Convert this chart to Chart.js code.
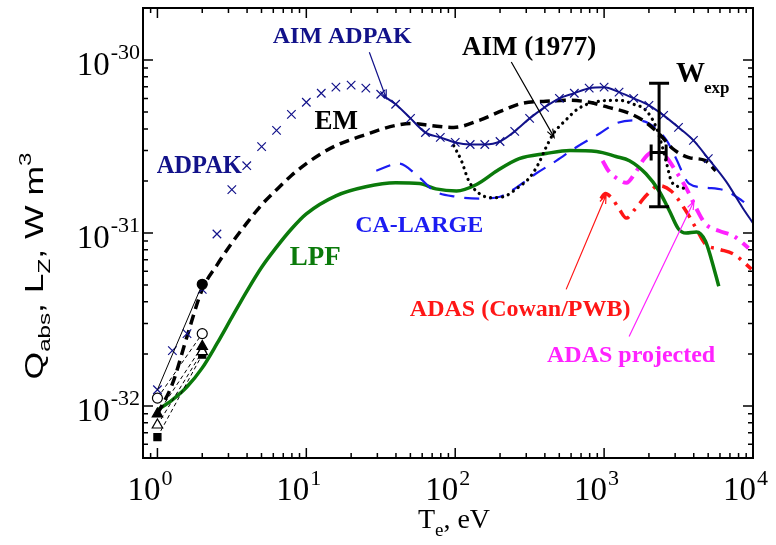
<!DOCTYPE html>
<html lang="en">
<head>
<meta charset="UTF-8"/>
<title>Radiative loss rates vs Te</title>
<script src="https://cdn.jsdelivr.net/npm/chart.js"></script>
<style>
  body { margin: 0; background: #fff; }
</style>
</head>
<body>
<canvas id="rad" width="776" height="545"></canvas>
<script>
  // ---- values: Te in eV, rate in W m^3 ----
  const adpakT = [1, 1.26, 1.58, 2, 2.51, 3.16, 3.98, 5.01, 6.31, 7.94, 10, 12.6, 15.8, 20, 25.1, 31.6, 39.8, 50.1, 63.1, 79.4,
                  100, 126, 158, 200, 251, 316, 398, 501, 631, 794, 1000, 1260, 1580, 2000, 2510, 3160, 3980, 5010];
  const adpakQ = [1.24e-32, 2.09e-32, 2.62e-32, 4.72e-32, 9.87e-32, 1.78e-31, 2.45e-31, 3.16e-31, 3.92e-31, 4.85e-31,
                  5.70e-31, 6.43e-31, 6.97e-31, 7.16e-31, 6.88e-31, 6.34e-31, 5.55e-31, 4.60e-31, 3.81e-31, 3.57e-31,
                  3.34e-31, 3.25e-31, 3.25e-31, 3.38e-31, 3.87e-31, 4.60e-31, 5.33e-31, 6.01e-31, 6.43e-31, 6.88e-31,
                  6.97e-31, 6.52e-31, 6.01e-31, 5.47e-31, 4.79e-31, 4.08e-31, 3.43e-31, 2.69e-31];

  const aimAdpakT = [33, 39.8, 50.1, 63.1, 79.4, 100, 126, 158, 200, 251, 316, 398, 501, 631, 794, 1000, 1260, 1580,
                     2000, 2510, 3160, 3980, 5010, 6610, 8510, 10000];
  const aimAdpakQ = [6.2e-31, 5.55e-31, 4.60e-31, 3.81e-31, 3.57e-31, 3.34e-31, 3.25e-31, 3.25e-31, 3.38e-31, 3.87e-31,
                     4.60e-31, 5.33e-31, 6.01e-31, 6.43e-31, 6.88e-31, 6.97e-31, 6.52e-31, 6.01e-31, 5.47e-31, 4.79e-31,
                     4.08e-31, 3.43e-31, 2.69e-31, 1.98e-31, 1.40e-31, 1.14e-31];

  const emT = [1, 1.26, 1.58, 2, 2.51, 3.16, 3.98, 5.01, 6.31, 7.94, 10, 12.6, 15.8, 20, 25.1, 31.6, 39.8, 50.1,
               67.6, 97.7, 145, 209, 282, 407, 589, 794, 1070, 1480, 1910, 2400, 2880, 3720, 4790, 5620];
  const emQ = [8.98e-33, 1.34e-32, 2.52e-32, 4.72e-32, 6.52e-32, 8.75e-32, 1.14e-31, 1.455e-31, 1.78e-31, 2.15e-31,
               2.52e-31, 2.88e-31, 3.20e-31, 3.47e-31, 3.71e-31, 3.97e-31, 4.19e-31, 4.30e-31,
               4.19e-31, 4.08e-31, 4.48e-31, 5.12e-31, 5.62e-31, 5.78e-31, 5.85e-31, 5.70e-31, 5.33e-31, 4.92e-31,
               4.36e-31, 3.66e-31, 3.08e-31, 2.73e-31, 2.62e-31, 2.29e-31];

  const aim77T = [97.7, 110, 123, 145, 178, 219, 257, 316, 363, 407, 457, 550, 676, 933, 1260, 1580, 1910, 2240,
                  2450, 2630, 2820, 3160, 3630];
  const aim77Q = [3.20e-31, 2.62e-31, 2.01e-31, 1.69e-31, 1.60e-31, 1.64e-31, 1.80e-31, 2.09e-31, 2.52e-31, 3.12e-31,
                  3.76e-31, 4.48e-31, 5.26e-31, 5.78e-31, 5.85e-31, 5.55e-31, 5.12e-31, 4.08e-31, 3.20e-31, 2.52e-31,
                  2.01e-31, 1.85e-31, 1.80e-31];

  const caT = [29.5, 41.7, 57.5, 72.4, 102, 145, 200, 257, 347, 479, 646, 933, 1200, 1620, 2000, 2630, 3020, 3720,
               4790, 6610, 8510, 9770];
  const caQ = [2.29e-31, 2.52e-31, 2.09e-31, 1.75e-31, 1.62e-31, 1.58e-31, 1.62e-31, 1.83e-31, 2.20e-31, 2.62e-31,
               3.12e-31, 3.76e-31, 4.30e-31, 4.48e-31, 4.30e-31, 3.43e-31, 2.73e-31, 1.93e-31, 1.83e-31, 1.75e-31,
               1.53e-31, 1.40e-31];

  const lpfT = [1, 1.26, 1.58, 2, 2.51, 3.16, 3.98, 5.01, 6.31, 7.94, 10, 15.8, 25.1, 39.8, 57.5, 74.1, 102, 138, 191,
                269, 407, 589, 891, 1200, 1480, 1910, 2340, 2750, 3160, 3550, 4170, 4790, 5250, 5890];
  const lpfQ = [9.48e-33, 1.084e-32, 1.29e-32, 1.66e-32, 2.29e-32, 3.25e-32, 4.60e-32, 6.34e-32, 8.29e-32, 1.055e-31,
                1.29e-31, 1.64e-31, 1.85e-31, 1.95e-31, 1.93e-31, 1.80e-31, 1.75e-31, 1.90e-31, 2.29e-31,
                2.69e-31, 2.88e-31, 3.00e-31, 2.96e-31, 2.77e-31, 2.62e-31, 2.20e-31, 1.75e-31, 1.34e-31, 1.055e-31,
                1.00e-31, 1.013e-31, 8.99e-32, 7.06e-32, 4.92e-32];

  const adasT = [950, 1020, 1120, 1260, 1410, 1620, 1910, 2340, 2820, 3470, 4170, 4790, 5890, 7410, 9770];
  const adasQ = [1.58e-31, 1.69e-31, 1.60e-31, 1.38e-31, 1.22e-31, 1.38e-31, 1.64e-31, 1.88e-31, 1.75e-31, 1.38e-31,
                 1.055e-31, 8.63e-32, 8.07e-32, 7.55e-32, 6.18e-32];

  const projT = [977, 1070, 1230, 1410, 1620, 1860, 2090, 2340, 2630, 3020, 3550, 4170, 4790, 5890, 7410, 9330];
  const projQ = [2.62e-31, 2.29e-31, 2.06e-31, 1.95e-31, 2.23e-31, 2.69e-31, 2.92e-31, 2.92e-31, 2.73e-31, 2.29e-31,
                 1.83e-31, 1.38e-31, 1.13e-31, 1.03e-31, 9.60e-32, 8.18e-32];

  // low temperature measurements at 1 and 2 eV
  const lowT = [1, 2];
  const lowFilledCircQ = [1.24e-32, 5.05e-32];
  const lowOpenCircQ = [1.11e-32, 2.62e-32];
  const lowFilledTriQ = [8.98e-33, 2.21e-32];
  const lowOpenTriQ = [7.76e-33, 2.06e-32];
  const lowSquareQ = [6.61e-33, 1.98e-32];

  // W experimental point with error bars
  const wexpT = 2340, wexpTlo = 2070, wexpThi = 2610;
  const wexpQ = 2.92e-31, wexpQlo = 1.42e-31, wexpQhi = 7.35e-31;

  const navy = "#12128a", blue = "#1c1cf2", green = "#0b7a0b", red = "#ff1616", magenta = "#ff22ff";

  const labels = [
    { text: "AIM ADPAK", t: 17.4, q: 1.36e-30, color: navy, size: 24 },
    { text: "AIM (1977)", t: 314, q: 1.17e-30, color: "#000", size: 27 },
    { text: "EM", t: 15.9, q: 4.36e-31, color: "#000", size: 27 },
    { text: "ADPAK", t: 1.91, q: 2.42e-31, color: navy, size: 24.5 },
    { text: "CA-LARGE", t: 57.3, q: 1.10e-31, color: blue, size: 24 },
    { text: "LPF", t: 11.5, q: 7.16e-32, color: green, size: 27 },
    { text: "ADAS (Cowan/PWB)", t: 273, q: 3.61e-32, color: red, size: 24 },
    { text: "ADAS projected", t: 1518, q: 1.95e-32, color: magenta, size: 24 }
  ];
  const arrows = [
    { t0: 26.5, q0: 1.11e-30, t1: 34.4, q1: 6.01e-31, color: navy },
    { t0: 238, q0: 9.74e-31, t1: 462, q1: 3.57e-31, color: "#000" },
    { t0: 556, q0: 4.72e-32, t1: 1031, q1: 1.66e-31, color: red },
    { t0: 1472, q0: 2.52e-32, t1: 4018, q1: 1.53e-31, color: magenta }
  ];

  const xy = (ts, qs) => ts.map((t, i) => ({ x: t, y: qs[i] }));
  const curve = (ts, qs, color, width, dash, cap) => ({
    data: xy(ts, qs), showLine: true, borderColor: color, borderWidth: width,
    borderDash: dash || [], borderCapStyle: cap || "butt", pointRadius: 0,
    cubicInterpolationMode: "monotone", fill: false
  });
  const lowSet = (qs, style, filled, dashed, radius) => ({
    data: xy(lowT, qs), showLine: true, borderColor: "#000", borderWidth: 1,
    borderDash: dashed ? [4, 3] : [], pointStyle: style, pointRadius: radius,
    pointBorderColor: "#000", pointBorderWidth: 1.2,
    pointBackgroundColor: filled ? "#000" : "#fff"
  });

  const overlay = {
    id: "overlay",
    afterDraw(chart) {
      const { ctx, chartArea: a, scales: { x, y } } = chart;
      const px = t => x.getPixelForValue(t), py = q => y.getPixelForValue(q);
      ctx.save();

      // frame
      ctx.strokeStyle = "#000";
      ctx.lineWidth = 2;
      ctx.strokeRect(a.left, a.top, a.right - a.left, a.bottom - a.top);

      // inward ticks on all sides
      ctx.lineWidth = 1.5;
      for (let k = -1; k <= 4; k++) {
        for (let m = 1; m <= 9; m++) {
          const p = px(m * Math.pow(10, k));
          if (p < a.left + 1 || p > a.right - 1) continue;
          const L = m === 1 ? 10 : 5;
          ctx.beginPath();
          ctx.moveTo(p, a.bottom); ctx.lineTo(p, a.bottom - L);
          ctx.moveTo(p, a.top); ctx.lineTo(p, a.top + L);
          ctx.stroke();
        }
      }
      for (let k = -33; k <= -30; k++) {
        for (let m = 1; m <= 9; m++) {
          const p = py(m * Math.pow(10, k));
          if (p < a.top + 1 || p > a.bottom - 1) continue;
          const L = m === 1 ? 10 : 5;
          ctx.beginPath();
          ctx.moveTo(a.left, p); ctx.lineTo(a.left + L, p);
          ctx.moveTo(a.right, p); ctx.lineTo(a.right - L, p);
          ctx.stroke();
        }
      }

      // tick labels 10^n
      ctx.fillStyle = "#000";
      ctx.textBaseline = "alphabetic";
      [0, 1, 2, 3, 4].forEach(d => {
        const p = px(Math.pow(10, d));
        ctx.font = '33px "Liberation Serif"';
        ctx.textAlign = "right";
        ctx.fillText("10", p + 3, 500);
        ctx.font = '22px "Liberation Serif"';
        ctx.textAlign = "left";
        ctx.fillText(String(d), p + 4, 485);
      });
      [-30, -31, -32].forEach(e => {
        const p = py(Math.pow(10, e));
        ctx.font = '22px "Liberation Serif"';
        ctx.textAlign = "right";
        ctx.fillText(String(e), a.left - 3, p - 1);
        const w = ctx.measureText(String(e)).width;
        ctx.font = '33px "Liberation Serif"';
        ctx.fillText("10", a.left - 4 - w, p + 15);
      });

      // x title: T_e, eV
      drawParts(ctx, [
        { s: "T", f: '28px "Liberation Serif"', dy: 0 },
        { s: "e", f: '19px "Liberation Serif"', dy: 8 },
        { s: ", eV", f: '28px "Liberation Serif"', dy: 0 }
      ], 454, 528, 1);

      // y title: Q_abs, L_Z, W m^3 (rotated)
      ctx.save();
      ctx.translate(43, 266);
      ctx.rotate(-Math.PI / 2);
      drawParts(ctx, [
        { s: "Q", f: '25px "Liberation Sans"', dy: 0 },
        { s: "abs", f: '17px "Liberation Sans"', dy: 7 },
        { s: ", L", f: '25px "Liberation Sans"', dy: 0 },
        { s: "Z", f: '17px "Liberation Sans"', dy: 7 },
        { s: ", W m", f: '25px "Liberation Sans"', dy: 0 },
        { s: "3", f: '17px "Liberation Sans"', dy: -12 }
      ], 0, 0, 1.42);
      ctx.restore();

      // W_exp error bars
      ctx.strokeStyle = "#000";
      ctx.lineWidth = 3;
      const cx = px(wexpT), cy = py(wexpQ);
      ctx.beginPath();
      ctx.moveTo(cx, py(wexpQhi)); ctx.lineTo(cx, py(wexpQlo));
      ctx.moveTo(cx - 10, py(wexpQhi)); ctx.lineTo(cx + 10, py(wexpQhi));
      ctx.moveTo(cx - 10, py(wexpQlo)); ctx.lineTo(cx + 10, py(wexpQlo));
      ctx.moveTo(px(wexpTlo), cy); ctx.lineTo(px(wexpThi), cy);
      ctx.moveTo(px(wexpTlo), cy - 8); ctx.lineTo(px(wexpTlo), cy + 8);
      ctx.moveTo(px(wexpThi), cy - 8); ctx.lineTo(px(wexpThi), cy + 8);
      ctx.stroke();

      // arrows
      arrows.forEach(r => {
        const x0 = px(r.t0), y0 = py(r.q0), x1 = px(r.t1), y1 = py(r.q1);
        const ang = Math.atan2(y1 - y0, x1 - x0), h = 9;
        ctx.strokeStyle = r.color;
        ctx.lineWidth = 1.2;
        ctx.beginPath();
        ctx.moveTo(x0, y0); ctx.lineTo(x1, y1);
        ctx.moveTo(x1 - h * Math.cos(ang - 0.35), y1 - h * Math.sin(ang - 0.35));
        ctx.lineTo(x1, y1);
        ctx.lineTo(x1 - h * Math.cos(ang + 0.35), y1 - h * Math.sin(ang + 0.35));
        ctx.stroke();
      });

      // curve labels
      ctx.textAlign = "center";
      ctx.textBaseline = "middle";
      labels.forEach(l => {
        ctx.font = 'bold ' + l.size + 'px "Liberation Serif"';
        ctx.fillStyle = l.color;
        ctx.fillText(l.text, px(l.t), py(l.q));
      });
      ctx.fillStyle = "#000";
      ctx.textAlign = "left";
      ctx.textBaseline = "alphabetic";
      ctx.font = 'bold 29px "Liberation Serif"';
      ctx.fillText("W", 676, 82);
      ctx.font = 'bold 17px "Liberation Serif"';
      ctx.fillText("exp", 704, 93);

      ctx.restore();
    }
  };

  function drawParts(ctx, parts, cx, base, sx) {
    let total = 0;
    parts.forEach(p => { ctx.font = p.f; p.w = ctx.measureText(p.s).width; total += p.w; });
    ctx.save();
    ctx.translate(cx, base);
    ctx.scale(sx, 1);
    let xPos = -total / 2;
    ctx.textAlign = "left";
    ctx.textBaseline = "alphabetic";
    ctx.fillStyle = "#000";
    parts.forEach(p => {
      ctx.font = p.f;
      ctx.fillText(p.s, xPos, p.dy);
      xPos += p.w;
    });
    ctx.restore();
  }

  new Chart(document.getElementById("rad"), {
    type: "scatter",
    data: {
      datasets: [
        lowSet(lowFilledCircQ, "circle", true, false, [0, 5]),
        lowSet(lowOpenCircQ, "circle", false, true, 5),
        lowSet(lowFilledTriQ, "triangle", true, true, 6),
        lowSet(lowOpenTriQ, "triangle", false, true, 6),
        lowSet(lowSquareQ, "rect", true, true, 5),
        {
          data: xy(adpakT, adpakQ), showLine: false, pointStyle: "crossRot", pointRadius: 6,
          pointBorderColor: navy, pointBorderWidth: 1.2
        },
        curve(aimAdpakT, aimAdpakQ, navy, 2),
        curve(emT, emQ, "#000", 3.5, [10, 6]),
        curve(aim77T, aim77Q, "#000", 3.2, [0.1, 6], "round"),
        curve(caT, caQ, blue, 2.2, [15, 10]),
        curve(lpfT, lpfQ, green, 3.5),
        curve(adasT, adasQ, red, 3.5, [13, 7, 3, 7]),
        curve(projT, projQ, magenta, 4, [13, 7, 3, 7])
      ]
    },
    options: {
      responsive: false,
      animation: false,
      devicePixelRatio: 1,
      layout: { padding: { left: 143, right: 23, top: 8, bottom: 87 } },
      plugins: { legend: { display: false }, tooltip: { enabled: false } },
      scales: {
        x: { type: "logarithmic", min: 0.8, max: 10000, display: false },
        y: { type: "logarithmic", min: 5e-33, max: 2e-30, display: false }
      }
    },
    plugins: [overlay]
  });
</script>
</body>
</html>
